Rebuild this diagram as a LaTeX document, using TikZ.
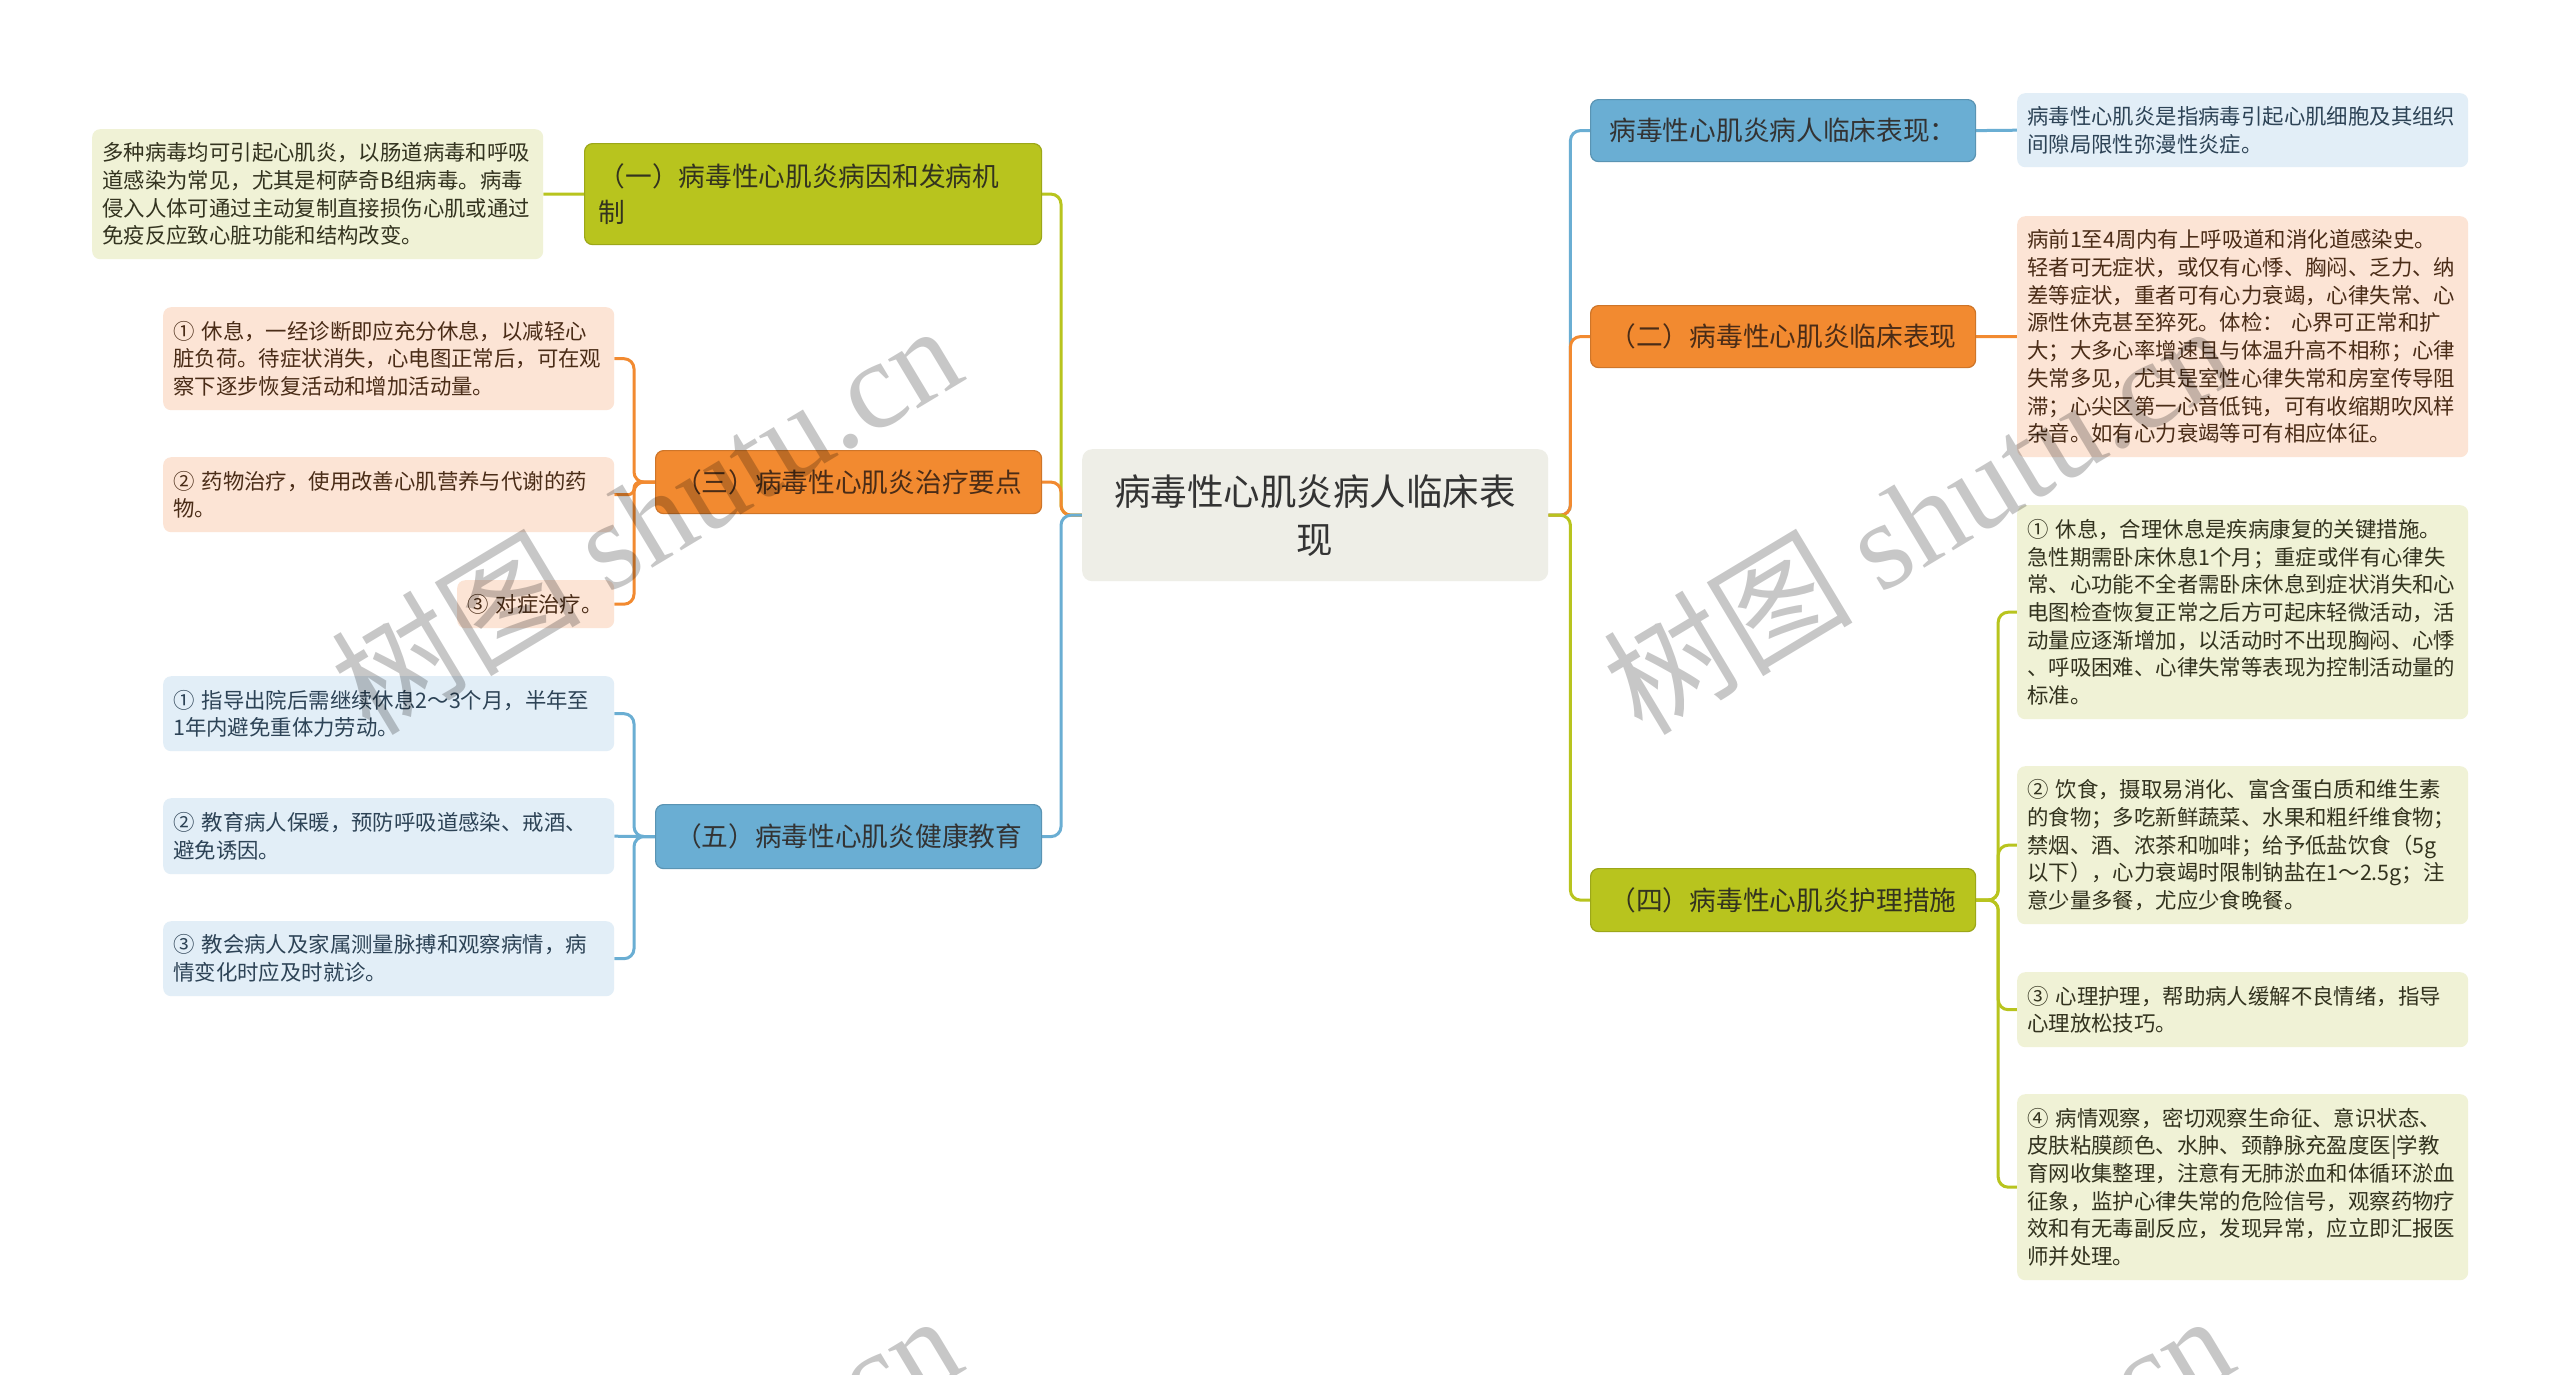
\documentclass[tikz,border=0pt]{standalone}
\usepackage{fontspec}
\setmainfont{Noto Sans CJK SC}
\newfontfamily\cjkfont{Noto Sans CJK SC}
\newfontfamily\wmserif{Liberation Serif}
\definecolor{mb}{HTML}{6AAED3}
\definecolor{mo}{HTML}{F28A30}
\definecolor{mg}{HTML}{B8C41E}
\definecolor{pb}{HTML}{E2EEF7}
\definecolor{po}{HTML}{FCE4D5}
\definecolor{pg}{HTML}{F0F2D6}
\definecolor{cgray}{HTML}{EEEEE7}
\definecolor{tx}{HTML}{333333}
\definecolor{tbl}{HTML}{2D4356}
\definecolor{tor}{HTML}{4A2C17}
\definecolor{tgr}{HTML}{33331F}
\newcommand\detfont{\fontsize{21.4}{27.7}\selectfont}
\newcommand\brfont{\fontsize{26.7}{36}\selectfont}
\newcommand\ctrfont{\fontsize{36.5}{48}\selectfont}
\newcommand\wmfont{\fontsize{125}{130}\selectfont}
\pgfdeclarelayer{bg}
\pgfsetlayers{bg,main}
\tikzset{
  conn/.style={line width=3pt, rounded corners=10pt},
  lb/.style={conn, draw=mb},
  lo/.style={conn, draw=mo},
  lg/.style={conn, draw=mg},
  det/.style={anchor=north west, rounded corners=8pt, inner sep=0pt,
    minimum width=451pt, text width=431pt, align=left, font=\detfont},
  detb/.style={det, fill=pb, text=tbl},
  deto/.style={det, fill=po, text=tor},
  detg/.style={det, fill=pg, text=tgr},
  br/.style={anchor=north west, rounded corners=8pt, inner sep=0pt,
    minimum width=385pt, minimum height=62pt, font=\brfont, align=center, line width=1.2pt},
  brb/.style={br, fill=mb, draw=mb!85!black, text=tx},
  bro/.style={br, fill=mo, draw=mo!85!black, text=tor},
  brg/.style={br, fill=mg, draw=mg!85!black, text=tgr},
  wm/.style={rotate=31, opacity=0.22, text=black, font=\wmfont}
}
\begin{document}
\begin{tikzpicture}[x=1pt,y=-1pt]
\useasboundingbox (0,0) rectangle (2560,1374);
\clip (0,0) rectangle (2560,1374);

% central node
\node[anchor=north west, minimum width=466pt, minimum height=132pt, inner sep=0pt,
  fill=cgray, rounded corners=10pt, align=center, font=\ctrfont, text=tx] (c) at (1082,449)
  {病毒性心肌炎病人临床表\\现};

% left branches
\node[brg, minimum width=457pt, minimum height=101pt, text width=429pt, align=left] (b1) at (584,143)
  {（一）病毒性心肌炎病因和发病机\\制};
\node[bro, minimum width=386pt, minimum height=63pt] (b3) at (655,450) {（三）病毒性心肌炎治疗要点};
\node[brb, minimum width=386pt, minimum height=64pt] (b5) at (655,804) {（五）病毒性心肌炎健康教育};

% right branches
\node[brb] (b0) at (1590,99) {病毒性心肌炎病人临床表现：};
\node[bro] (b2) at (1590,305) {（二）病毒性心肌炎临床表现};
\node[brg, minimum height=63pt] (b4) at (1590,868) {（四）病毒性心肌炎护理措施};

% left details
\node[detg, minimum height=130pt] (d1) at (92,129)
  {多种病毒均可引起心肌炎，以肠道病毒和呼吸\\道感染为常见，尤其是柯萨奇B组病毒。病毒\\侵入人体可通过主动复制直接损伤心肌或通过\\免疫反应致心脏功能和结构改变。};
\node[deto, minimum height=103pt] (o1) at (163,307)
  {①~休息，一经诊断即应充分休息，以减轻心\\脏负荷。待症状消失，心电图正常后，可在观\\察下逐步恢复活动和增加活动量。};
\node[deto, minimum height=75pt] (o2) at (163,457)
  {②~药物治疗，使用改善心肌营养与代谢的药\\物。};
\node[deto, minimum width=157pt, text width=137pt, minimum height=48pt] (o3) at (457,580)
  {③~对症治疗。};
\node[detb, minimum height=75pt] (u1) at (163,676)
  {①~指导出院后需继续休息2～3个月，半年至\\1年内避免重体力劳动。};
\node[detb, minimum height=76pt] (u2) at (163,798)
  {②~教育病人保暖，预防呼吸道感染、戒酒、\\避免诱因。};
\node[detb, minimum height=75pt] (u3) at (163,921)
  {③~教会病人及家属测量脉搏和观察病情，病\\情变化时应及时就诊。};

% right details
\node[detb, minimum height=74pt] (d0) at (2017,93)
  {病毒性心肌炎是指病毒引起心肌细胞及其组织\\间隙局限性弥漫性炎症。};
\node[deto, minimum height=241pt] (d2) at (2017,216)
  {病前1至4周内有上呼吸道和消化道感染史。\\轻者可无症状，或仅有心悸、胸闷、乏力、纳\\差等症状，重者可有心力衰竭，心律失常、心\\源性休克甚至猝死。体检：~心界可正常和扩\\大；大多心率增速且与体温升高不相称；心律\\失常多见，尤其是室性心律失常和房室传导阻\\滞；心尖区第一心音低钝，可有收缩期吹风样\\杂音。如有心力衰竭等可有相应体征。};
\node[detg, minimum height=214pt] (g1) at (2017,505)
  {①~休息，合理休息是疾病康复的关键措施。\\急性期需卧床休息1个月；重症或伴有心律失\\常、心功能不全者需卧床休息到症状消失和心\\电图检查恢复正常之后方可起床轻微活动，活\\动量应逐渐增加，以活动时不出现胸闷、心悸\\、呼吸困难、心律失常等表现为控制活动量的\\标准。};
\node[detg, minimum height=158pt] (g2) at (2017,766)
  {②~饮食，摄取易消化、富含蛋白质和维生素\\的食物；多吃新鲜蔬菜、水果和粗纤维食物；\\禁烟、酒、浓茶和咖啡；给予低盐饮食（5g\\以下），心力衰竭时限制钠盐在1～2.5g；注\\意少量多餐，尤应少食晚餐。};
\node[detg, minimum height=75pt] (g3) at (2017,972)
  {③~心理护理，帮助病人缓解不良情绪，指导\\心理放松技巧。};
\node[detg, minimum height=186pt] (g4) at (2017,1094)
  {④~病情观察，密切观察生命征、意识状态、\\皮肤粘膜颜色、水肿、颈静脉充盈度医|学教\\育网收集整理，注意有无肺淤血和体循环淤血\\征象，监护心律失常的危险信号，观察药物疗\\效和有无毒副反应，发现异常，应立即汇报医\\师并处理。};

% connectors (behind nodes)
\begin{pgfonlayer}{bg}
\fill[white] (0,0) rectangle (2560,1374);
\draw[lg] (c.west) -- ++(-21,0) |- (b1.east);
\draw[lo] (c.west) -- ++(-21,0) |- (b3.east);
\draw[lb] (c.west) -- ++(-21,0) |- (b5.east);
\draw[lb] (c.east) -- ++(22,0) |- (b0.west);
\draw[lo] (c.east) -- ++(22,0) |- (b2.west);
\draw[lg] (c.east) -- ++(22,0) |- (b4.west);
\draw[lg] (b1.west) -- (d1.east);
\draw[lb] (b0.east) -- (d0.west);
\draw[lo] (b2.east) -- (d2.west);
\draw[lo] (b3.west) -- ++(-21,0) |- (o1.east);
\draw[lo, rounded corners=6pt] (b3.west) -- ++(-21,0) |- (o2.east);
\draw[lo] (b3.west) -- ++(-21,0) |- (o3.east);
\draw[lb] (b5.west) -- ++(-21,0) |- (u1.east);
\draw[lb] (b5.west) -- (u2.east);
\draw[lb] (b5.west) -- ++(-21,0) |- (u3.east);
\draw[lg] (b4.east) -- ++(22,0) |- (g1.west);
\draw[lg] (b4.east) -- ++(22,0) |- (g2.west);
\draw[lg] (b4.east) -- ++(22,0) |- (g3.west);
\draw[lg] (b4.east) -- ++(22,0) |- (g4.west);
\end{pgfonlayer}

% watermarks
\node[wm] (wm1) at (645,517) {{\cjkfont 树图} {\wmserif shutu.cn}};
\node[wm] (wm2) at (1917,517) {{\cjkfont 树图} {\wmserif shutu.cn}};
\node[wm] (wm3) at (645,1507) {{\cjkfont 树图} {\wmserif shutu.cn}};
\node[wm] (wm4) at (1917,1507) {{\cjkfont 树图} {\wmserif shutu.cn}};
\end{tikzpicture}
\end{document}
